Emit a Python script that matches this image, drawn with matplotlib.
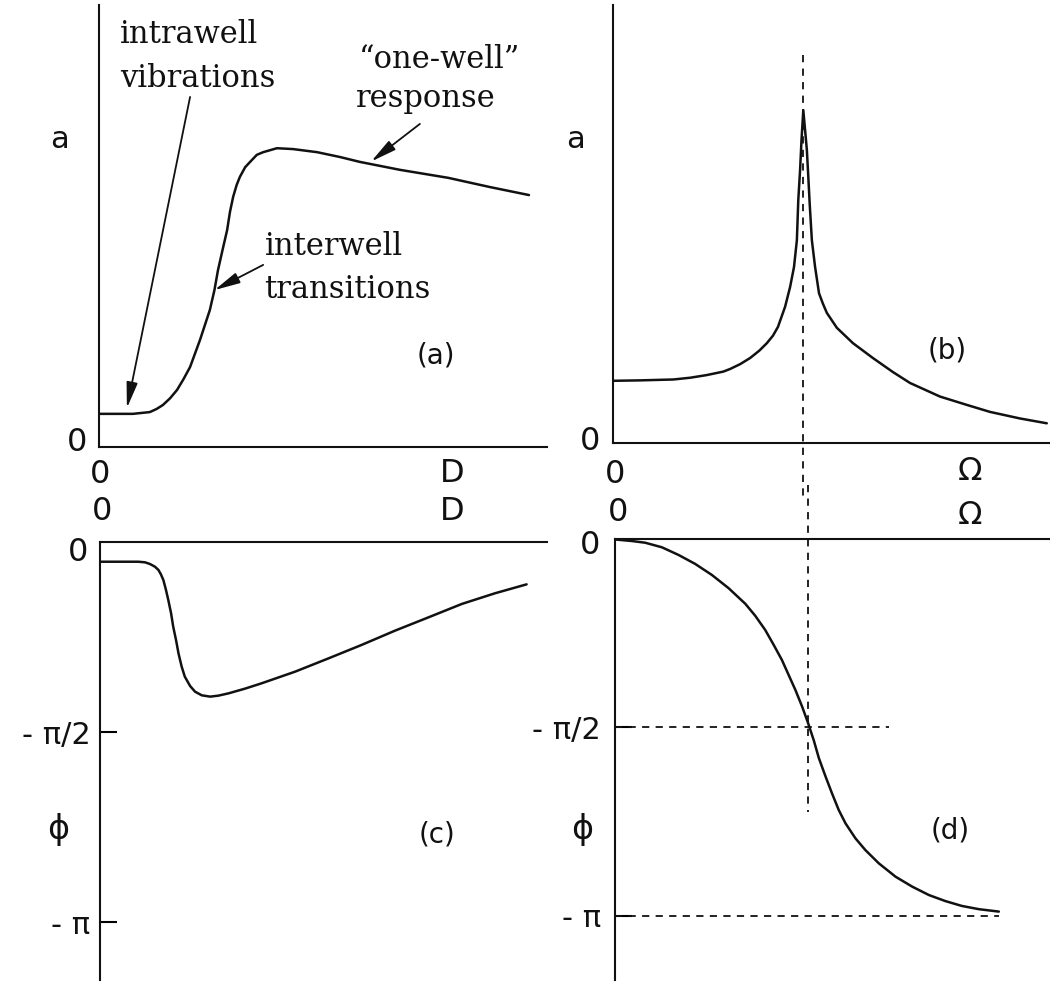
import numpy as np
import matplotlib.pyplot as plt

# (a) amplitude vs noise intensity D (D = 1 at the "D" label)
a_D = [0.0, 0.096, 0.144, 0.163, 0.181, 0.201, 0.221, 0.239, 0.258, 0.286, 0.300, 0.314,
       0.327, 0.337, 0.350, 0.363, 0.371, 0.380, 0.390, 0.399, 0.414, 0.428, 0.447, 0.465,
       0.504, 0.550, 0.618, 0.683, 0.739, 0.853, 0.989, 1.108, 1.218]
a_amp = [0.075, 0.075, 0.079, 0.086, 0.095, 0.110, 0.129, 0.153, 0.181, 0.242, 0.276, 0.310,
         0.355, 0.400, 0.446, 0.491, 0.532, 0.566, 0.593, 0.611, 0.633, 0.645, 0.661, 0.667,
         0.676, 0.674, 0.667, 0.656, 0.645, 0.627, 0.609, 0.588, 0.570]

# (b) amplitude vs driving frequency Omega (Omega = 1 at the label)
b_W = [0.0, 0.076, 0.169, 0.216, 0.262, 0.309, 0.328, 0.356, 0.384, 0.410, 0.431, 0.448,
       0.462, 0.482, 0.496, 0.507, 0.515, 0.519, 0.524, 0.528, 0.533,
       0.543, 0.547, 0.551, 0.557, 0.566, 0.577, 0.588, 0.599, 0.627, 0.672, 0.728,
       0.784, 0.832, 0.916, 0.991, 1.056, 1.140, 1.215]
b_amp = [0.142, 0.143, 0.145, 0.149, 0.155, 0.163, 0.169, 0.180, 0.194, 0.211, 0.228, 0.245,
         0.265, 0.311, 0.356, 0.402, 0.463, 0.555, 0.623, 0.692, 0.760,
         0.669, 0.608, 0.545, 0.463, 0.402, 0.342, 0.318, 0.297, 0.263, 0.228, 0.194,
         0.162, 0.137, 0.106, 0.087, 0.071, 0.056, 0.045]
b_res = 0.533

# (c) phase vs D
c_D = [0.0, 0.109, 0.128, 0.142, 0.156, 0.166, 0.173, 0.180, 0.187, 0.194, 0.202, 0.208,
       0.216, 0.223, 0.232, 0.241, 0.256, 0.270, 0.289, 0.313, 0.336, 0.365, 0.412, 0.459,
       0.554, 0.649, 0.743, 0.838, 0.933, 1.028, 1.122, 1.212]
c_phi = [-0.163, -0.163, -0.168, -0.182, -0.204, -0.231, -0.267, -0.314, -0.391, -0.479,
         -0.590, -0.700, -0.810, -0.920, -1.030, -1.113, -1.190, -1.237, -1.267, -1.278,
         -1.270, -1.251, -1.212, -1.168, -1.072, -0.962, -0.851, -0.733, -0.623, -0.512,
         -0.424, -0.350]

# (d) phase vs Omega
d_W = [0.0, 0.048, 0.085, 0.132, 0.179, 0.226, 0.273, 0.320, 0.367, 0.395, 0.423, 0.447,
       0.470, 0.489, 0.508, 0.527, 0.544, 0.560, 0.574, 0.592, 0.611, 0.630, 0.649, 0.677,
       0.705, 0.743, 0.790, 0.837, 0.884, 0.930, 0.977, 1.025, 1.081]
d_phi = [-0.004, -0.017, -0.031, -0.069, -0.133, -0.208, -0.300, -0.410, -0.540, -0.640,
         -0.758, -0.883, -1.008, -1.133, -1.258, -1.397, -1.536, -1.680, -1.825, -1.972,
         -2.119, -2.258, -2.369, -2.494, -2.592, -2.703, -2.814, -2.897, -2.967, -3.017,
         -3.058, -3.085, -3.105]
d_res = 0.544

W, H = 1050, 982
fig = plt.figure(figsize=(W / 100, H / 100), dpi=100)


def box(l, t, r, b):
    # pixel box -> figure fraction
    return [l / W, 1 - b / H, (r - l) / W, (b - t) / H]


ax_a = fig.add_axes(box(99, 5, 547, 447))
ax_b = fig.add_axes(box(613, 5, 1050, 443))
ax_c = fig.add_axes(box(100, 542, 547, 980))
ax_d = fig.add_axes(box(615, 539, 1050, 980))

curve = dict(color='#111111', lw=1.8, solid_joinstyle='round', solid_capstyle='round')
dash = dict(color='#111111', lw=1.3, ls=(0, (4, 3.5)), clip_on=False)
sans = dict(family='DejaVu Sans', color='#111111', clip_on=False)
serif = dict(family='DejaVu Serif', color='#111111', fontsize=22)
arrow = dict(arrowstyle='-|>,head_length=1.3,head_width=0.28', color='#111111',
             lw=1.3, mutation_scale=12, shrinkA=0, shrinkB=0)

for ax in (ax_a, ax_b, ax_c, ax_d):
    for s in ax.spines.values():
        s.set_linewidth(1.5)
        s.set_color('#111111')
    ax.set_xticks([])

# ---- top row: amplitude
for ax in (ax_a, ax_b):
    ax.spines['top'].set_visible(False)
    ax.spines['right'].set_visible(False)
    ax.set_yticks([])
    ax.set_ylim(0, 1.0)

ax_a.set_xlim(0, 1.269)
ax_a.plot(a_D, a_amp, **curve)
ax_a.text(-0.113, 0.695, 'a', fontsize=22, ha='center', va='center', **sans)
ax_a.text(-0.062, 0.01, '0', fontsize=23, ha='center', va='center', **sans)
ax_a.text(0.003, -0.063, '0', fontsize=23, ha='center', va='center', **sans)
ax_a.text(1.0, -0.059, 'D', fontsize=23, ha='center', va='center', **sans)
ax_a.text(0.955, 0.208, '(a)', fontsize=20, ha='center', va='center', **sans)

ax_a.text(0.059, 0.914, 'intrawell', ha='left', va='baseline', **serif)
ax_a.text(0.059, 0.814, 'vibrations', ha='left', va='baseline', **serif)
ax_a.annotate('', xy=(0.079, np.interp(0.079, a_D, a_amp) + 0.013), xytext=(0.258, 0.792),
              arrowprops=arrow)
ax_a.text(0.737, 0.857, '\u201cone-well\u201d', ha='left', va='baseline', **serif)
ax_a.text(0.728, 0.769, 'response', ha='left', va='baseline', **serif)
ax_a.annotate('', xy=(0.771, np.interp(0.771, a_D, a_amp) + 0.006), xytext=(0.909, 0.731),
              arrowprops=arrow)
ax_a.text(0.469, 0.434, 'interwell', ha='left', va='baseline', **serif)
ax_a.text(0.469, 0.337, 'transitions', ha='left', va='baseline', **serif)
ax_a.annotate('', xy=(0.327, np.interp(0.327, a_D, a_amp)), xytext=(0.465, 0.412),
              arrowprops=arrow)

ax_b.set_xlim(0, 1.224)
ax_b.plot(b_W, b_amp, **curve)
ax_b.plot([b_res, b_res], [0.886, -0.13], **dash)
ax_b.text(-0.106, 0.692, 'a', fontsize=22, ha='center', va='center', **sans)
ax_b.text(-0.064, 0.004, '0', fontsize=23, ha='center', va='center', **sans)
ax_b.text(0.006, -0.073, '0', fontsize=23, ha='center', va='center', **sans)
ax_b.text(1.0, -0.066, '\u03a9', fontsize=23, ha='center', va='center', **sans)
ax_b.text(0.936, 0.212, '(b)', fontsize=20, ha='center', va='center', **sans)

# ---- bottom row: phase
phase_ticks = [-np.pi / 2, -np.pi]
phase_labels = ['- \u03c0/2', '- \u03c0']
for ax in (ax_c, ax_d):
    ax.spines['bottom'].set_visible(False)
    ax.spines['right'].set_visible(False)
    ax.set_yticks(phase_ticks)
    ax.set_yticklabels(phase_labels, fontsize=22, family='DejaVu Sans', color='#111111')
    ax.tick_params(axis='y', direction='in', length=12, width=1.5, pad=7)

ax_c.set_xlim(0, 1.27)
ax_c.set_ylim(-3.62, 0)
ax_c.plot(c_D, c_phi, **curve)
ax_c.text(-0.0625, -0.083, '0', fontsize=23, ha='center', va='center', **sans)
ax_c.text(0.006, 0.248, '0', fontsize=23, ha='center', va='center', **sans)
ax_c.text(1.0, 0.248, 'D', fontsize=23, ha='center', va='center', **sans)
ax_c.text(-0.119, -2.38, '\u03d5', fontsize=24, ha='center', va='center', **sans)
ax_c.text(0.957, -2.42, '(c)', fontsize=20, ha='center', va='center', **sans)

ax_d.set_xlim(0, 1.225)
ax_d.set_ylim(-3.675, 0)
ax_d.plot(d_W, d_phi, **curve)
ax_d.plot([d_res, d_res], [0.45, -2.275], **dash)
ax_d.plot([0, 0.772], [-np.pi / 2, -np.pi / 2], **dash)
ax_d.plot([0, 1.082], [-np.pi, -np.pi], **dash)
ax_d.tick_params(axis='y', pad=10)
ax_d.text(-0.07, -0.05, '0', fontsize=23, ha='center', va='center', **sans)
ax_d.text(0.008, 0.217, '0', fontsize=23, ha='center', va='center', **sans)
ax_d.text(1.0, 0.2, '\u03a9', fontsize=23, ha='center', va='center', **sans)
ax_d.text(-0.093, -2.425, '\u03d5', fontsize=24, ha='center', va='center', **sans)
ax_d.text(0.944, -2.425, '(d)', fontsize=20, ha='center', va='center', **sans)

fig.savefig('out.png', dpi=100)
